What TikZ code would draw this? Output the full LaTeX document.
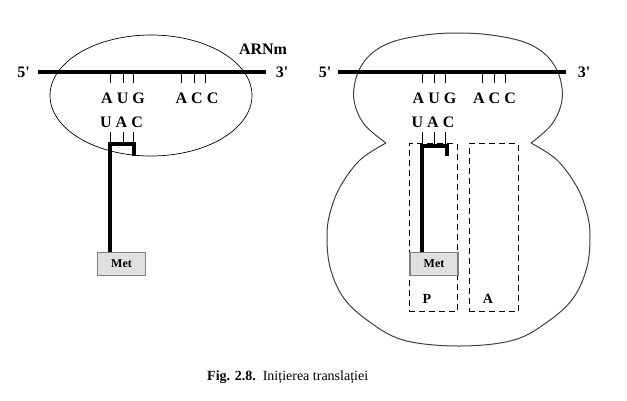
\documentclass[tikz,border=0pt]{standalone}
\usepackage{fontspec}
\setmainfont{Liberation Serif}
\usetikzlibrary{shapes.geometric}
\begin{document}
\begin{tikzpicture}[x=1pt,y=-1pt,
  mrna/.style={line width=4pt},
  trna/.style={line width=4pt},
  tick/.style={line width=0.9pt},
  base/.style={font=\fontsize{16}{18}\selectfont\bfseries, inner sep=0pt},
  endlbl/.style={font=\fontsize{16}{18}\selectfont\bfseries, inner sep=0pt},
  metbox/.style={draw=gray, line width=1.6pt, fill=black!12, minimum width=48pt, minimum height=23pt, inner sep=0pt, font=\fontsize{12}{14}\selectfont\bfseries},
  site/.style={draw, dashed, dash pattern=on 6pt off 4pt, line width=0.9pt},
  sitelbl/.style={font=\fontsize{14}{16}\selectfont\bfseries, inner sep=0pt},
  ribo/.style={draw=black!75, line width=1pt},
]
\useasboundingbox (0,0) rectangle (627,400);

% ---------- left diagram ----------
\node[draw, ellipse, line width=0.7pt, minimum width=202pt, minimum height=121pt, inner sep=0pt] (ell) at (151,95.5) {};
\node[endlbl] (l5) at (23.5,72) {5\textquotesingle};
\node[endlbl] (l3) at (282,72) {3\textquotesingle};
\node[endlbl] (arnm) at (263,49) {ARNm};
\coordinate (lmA) at (38,72);
\coordinate (lmB) at (266,72);
\draw[mrna] (lmA) -- (lmB);
\foreach \x in {110,123,133,181,194,205} \draw[tick] (\x,72) -- (\x,83);
\node[base] (laug) at (123,98) {A U G};
\node[base] (lacc) at (197,98) {A C C};
\node[base] (luac) at (121.5,122) {U A C};
\foreach \x in {110,123,133} \draw[tick] (\x,132) -- (\x,144);
\node[metbox] (lmet) at (121.5,264) {Met};
\coordinate (lt1) at (110,144);
\coordinate (lt2) at (134,144);
\coordinate (lt3) at (134,156);
\draw[trna, line join=miter] (lmet.north -| lt1) -- (lt1) -- (lt2) -- (lt3);

% ---------- right diagram ----------
\draw[ribo] plot[smooth, tension=0.6] coordinates {(386,143) (364,124) (354,100) (357,75) (370,55) (392,42) (425,35) (458,33) (491,35) (524,42) (546,55) (559,75) (562,100) (552,124) (531,143)}
  plot[smooth, tension=0.6] coordinates {(531,143) (557,160) (577,187) (587,213) (590,236) (587,267) (574,297) (550,320) (514,340) (459,346) (403,340) (367,320) (343,297) (330,267) (327,236) (330,213) (340,187) (360,160) (386,143)};
\node[site, minimum width=48pt, minimum height=168pt, inner sep=0pt] (psite) at (433,227.5) {};
\node[site, minimum width=49pt, minimum height=168pt, inner sep=0pt] (asite) at (493.5,227.5) {};
\node[sitelbl] (plbl) at (427,299) {P};
\node[sitelbl] (albl) at (488,299) {A};
\node[endlbl] (r5) at (325,72) {5\textquotesingle};
\node[endlbl] (r3) at (584,72) {3\textquotesingle};
\coordinate (rmA) at (338,72);
\coordinate (rmB) at (566,72);
\draw[mrna] (rmA) -- (rmB);
\foreach \x in {422,434,445,482,494,505} \draw[tick] (\x,72) -- (\x,83);
\node[base] (raug) at (434.5,98) {A U G};
\node[base] (racc) at (494.5,98) {A C C};
\node[base] (ruac) at (433,122) {U A C};
\foreach \x in {422,434,445} \draw[tick] (\x,132) -- (\x,146);
\node[metbox] (rmet) at (434,264) {Met};
\coordinate (rt1) at (422,146);
\coordinate (rt2) at (447,146);
\coordinate (rt3) at (447,156);
\draw[trna, line join=miter] (rmet.north -| rt1) -- (rt1) -- (rt2) -- (rt3);

% ---------- caption ----------
\node[anchor=west, inner sep=0pt, font=\fontsize{14}{16}\selectfont] (cap) at (207,377) {\textbf{Fig. 2.8.}\ \ Inițierea translației};
\end{tikzpicture}
\end{document}
